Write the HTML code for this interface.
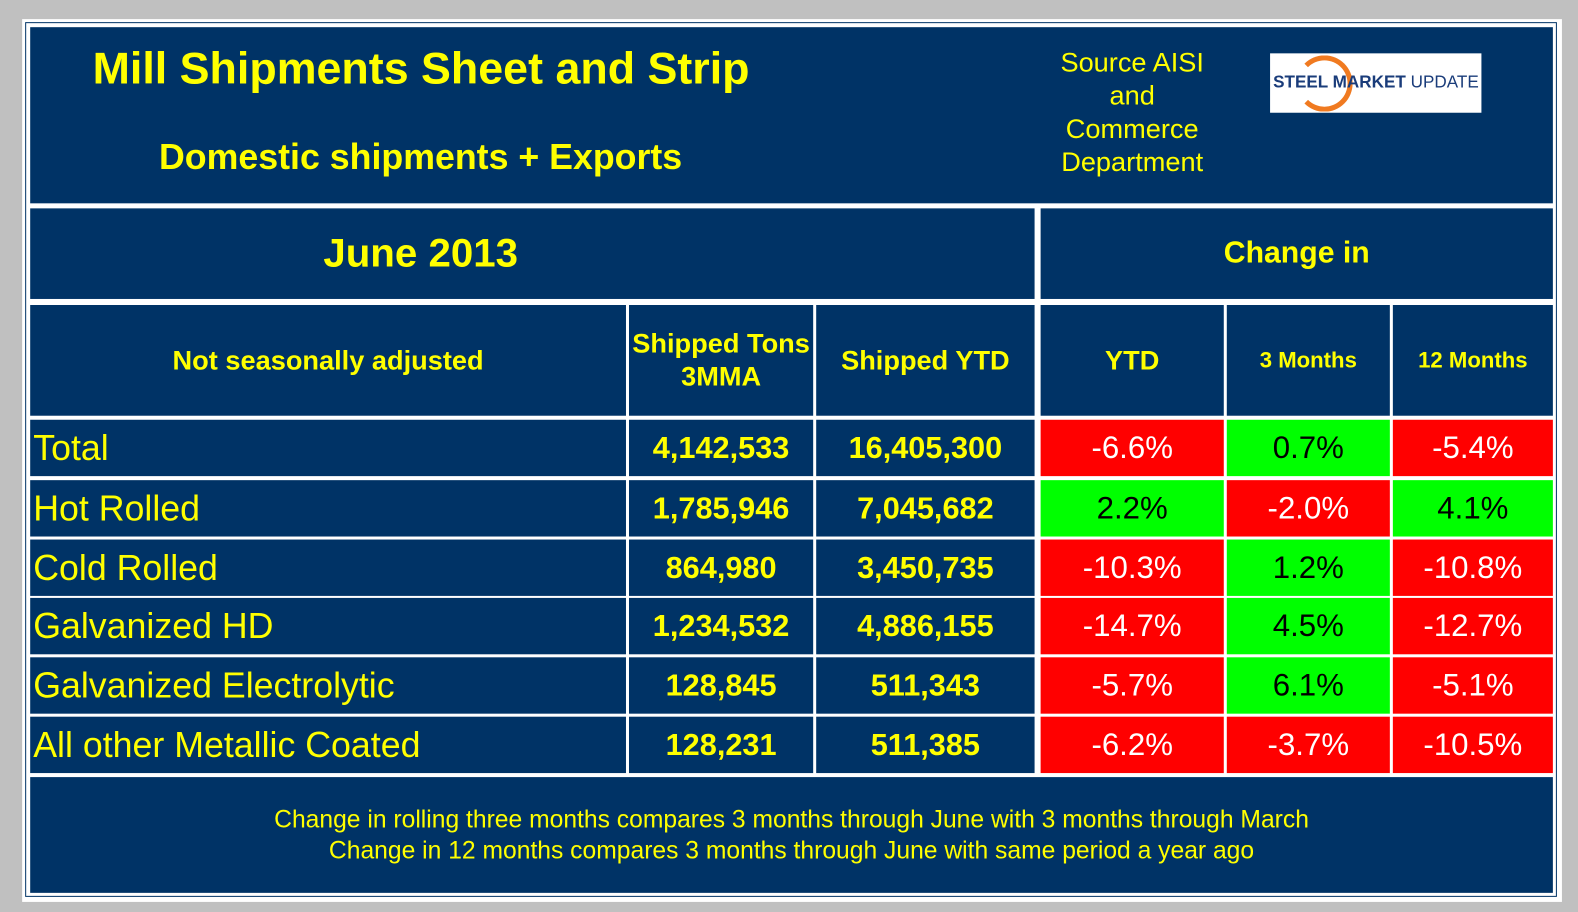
<!DOCTYPE html>
<html><head><meta charset="utf-8"><style>
body{margin:0;width:1578px;height:912px;background:#c0c0c0;position:relative;overflow:hidden;font-family:"Liberation Sans",Arial,sans-serif}
#wrap{position:absolute;left:0;top:0;width:1568px;height:906px;transform:scale(1.0064,1.0066);transform-origin:0 0}
.p{position:absolute}
.c{position:absolute;background:#003366;display:flex;align-items:center;justify-content:center;color:#ffff00;box-sizing:border-box}
.b{font-weight:bold}
.r{background:#ff0000;color:#fff;font-size:31px}
.g{background:#00ff00;color:#000;font-size:31px}
.lab{justify-content:flex-start;padding-left:3px;font-size:35.5px}
.num{font-weight:bold;font-size:30.5px}
</style></head><body>
<div id="wrap">
<div class="p" style="left:22px;top:19px;width:1530px;height:877px;background:#fff"></div>
<div class="p" style="left:25px;top:22px;width:1522px;height:869px;border:1px solid #003366;box-sizing:border-box"></div>
<div class="c" style="left:30px;top:27px;width:1513px;height:175px;display:block">
<div class="p b" style="left:62px;top:17px;font-size:44.5px;white-space:nowrap">Mill Shipments Sheet and Strip</div>
<div class="p b" style="left:128px;top:109px;font-size:35.5px;white-space:nowrap">Domestic shipments + Exports</div>
<div class="p" style="left:1005px;top:19px;width:180px;text-align:center;font-size:27px;line-height:33px">Source AISI and Commerce Department</div>
<div class="p" style="left:1232px;top:26px;width:210px;height:59px;background:#fff;overflow:hidden">
<div class="p" style="left:26px;top:2px;width:56px;height:56px;border-radius:50%;border:5px solid #f07a20;border-left-color:transparent;box-sizing:border-box"></div>
<div class="p" style="left:3px;top:19px;font-size:17px;color:#1a3c7a;white-space:nowrap"><b>STEEL MARKET</b> UPDATE</div></div>
</div>
<div class="c b" style="left:30px;top:207px;width:998px;height:90px;font-size:40px;padding-right:222px">June 2013</div>
<div class="c b" style="left:1034px;top:207px;width:509px;height:90px;font-size:30px">Change in</div>
<div class="c b" style="left:30px;top:303px;width:592px;height:110px;font-size:27px">Not seasonally adjusted</div>
<div class="c b" style="left:625px;top:303px;width:183px;height:110px;font-size:27px;text-align:center;line-height:33px;white-space:nowrap">Shipped Tons<br>3MMA</div>
<div class="c b" style="left:811px;top:303px;width:217px;height:110px;font-size:27px">Shipped YTD</div>
<div class="c b" style="left:1034px;top:303px;width:182px;height:110px;font-size:27px">YTD</div>
<div class="c b" style="left:1219px;top:303px;width:162px;height:110px;font-size:22px">3 Months</div>
<div class="c b" style="left:1384px;top:303px;width:159px;height:110px;font-size:22px">12 Months</div>
<div id="rows"></div>
<div class="c" style="left:30px;top:772px;width:1513px;height:115px;font-size:24.5px;text-align:center;line-height:31px">Change in rolling three months compares 3 months through June with 3 months through March<br>Change in 12 months compares 3 months through June with same period a year ago</div>
</div>
<script>
const labels=["Total","Hot Rolled","Cold Rolled","Galvanized HD","Galvanized Electrolytic","All other Metallic Coated"];
const tons3mma=["4,142,533","1,785,946","864,980","1,234,532","128,845","128,231"];
const tonsYtd=["16,405,300","7,045,682","3,450,735","4,886,155","511,343","511,385"];
const chgYtd=[-6.6,2.2,-10.3,-14.7,-5.7,-6.2];
const chg3m=[0.7,-2.0,1.2,4.5,6.1,-3.7];
const chg12m=[-5.4,4.1,-10.8,-12.7,-5.1,-10.5];
const tops=[417,477,536,594,653,712];
const root=document.getElementById('rows');
function cell(x,w,y,h,cls,txt,name){const d=document.createElement('div');d.className='c '+cls;d.style.cssText=`left:${x}px;top:${y}px;width:${w}px;height:${h}px`;d.textContent=txt;


root.appendChild(d);}
labels.forEach((l,i)=>{const y=tops[i],h=56;
cell(30,592,y,h,'lab',l,'row-label');
cell(625,183,y,h,'num',tons3mma[i],'tons-3mma');
cell(811,217,y,h,'num',tonsYtd[i],'tons-ytd');
[[1034,182,chgYtd[i],'change-ytd'],[1219,162,chg3m[i],'change-3m'],[1384,159,chg12m[i],'change-12m']].forEach(([x,w,v,n])=>cell(x,w,y,h,v<0?'r':'g',v.toFixed(1)+'%',n));});
</script>
</body></html>
